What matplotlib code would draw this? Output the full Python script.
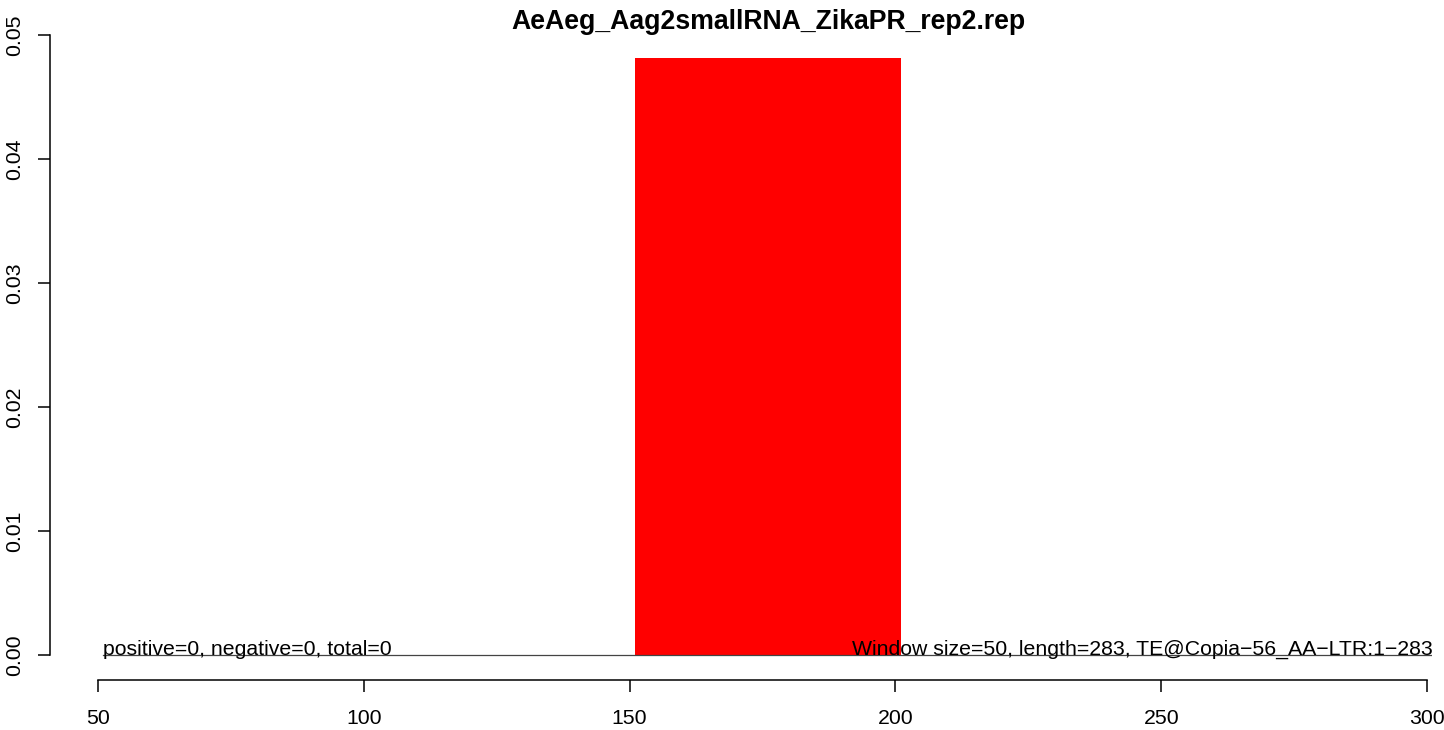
import matplotlib
matplotlib.use("Agg")
import matplotlib.pyplot as plt

# Data
title = "AeAeg_Aag2smallRNA_ZikaPR_rep2.rep"
bin_starts = [51, 101, 151, 201, 251]
window = 50
values = [0.0, 0.0, 0.04815, 0.0, 0.0]
left_text = "positive=0, negative=0, total=0"
right_text = "Window size=50, length=283, TE@Copia\u221256_AA\u2212LTR:1\u2212283"
xticks = [50, 100, 150, 200, 250, 300]
yticks = [0.00, 0.01, 0.02, 0.03, 0.04, 0.05]
ytick_labels = ["0.00", "0.01", "0.02", "0.03", "0.04", "0.05"]

plt.rcParams['font.family'] = ['Liberation Sans', 'DejaVu Sans']

W, H = 1444, 730
fig = plt.figure(figsize=(W / 100, H / 100), dpi=100)
ax = fig.add_axes([50 / W, (H - 680) / H, 1382 / W, 670 / H])

ax.bar(bin_starts, values, width=window, align='edge', color='red', edgecolor='none')
ax.plot([bin_starts[0], bin_starts[-1] + window], [0, 0], color='#444444', lw=0.9)

ax.set_xlim(40.97, 300.94)
ax.set_ylim(-0.002, 0.052)

for s in ['top', 'right']:
    ax.spines[s].set_visible(False)
ax.spines['bottom'].set_bounds(xticks[0], xticks[-1])
ax.spines['left'].set_bounds(yticks[0], yticks[-1])
for s in ['bottom', 'left']:
    ax.spines[s].set_linewidth(1.1)

ax.set_xticks(xticks)
ax.set_xticklabels([str(v) for v in xticks])
ax.set_yticks(yticks)
ax.set_yticklabels(ytick_labels, rotation=90, va='center')
ax.tick_params(axis='both', length=8.6, width=1.1, labelsize=15.3, direction='out')
ax.tick_params(axis='x', pad=12)
ax.tick_params(axis='y', pad=10)

ax.text(bin_starts[0], 0, left_text, ha='left', va='baseline', fontsize=15.3)
ax.text(bin_starts[-1] + window, 0, right_text, ha='right', va='baseline', fontsize=15.3)

fig.text(768 / W, 1 - 22 / H, title, ha='center', va='center', fontsize=19.2, fontweight='bold')

fig.savefig("out.png", dpi=100)
